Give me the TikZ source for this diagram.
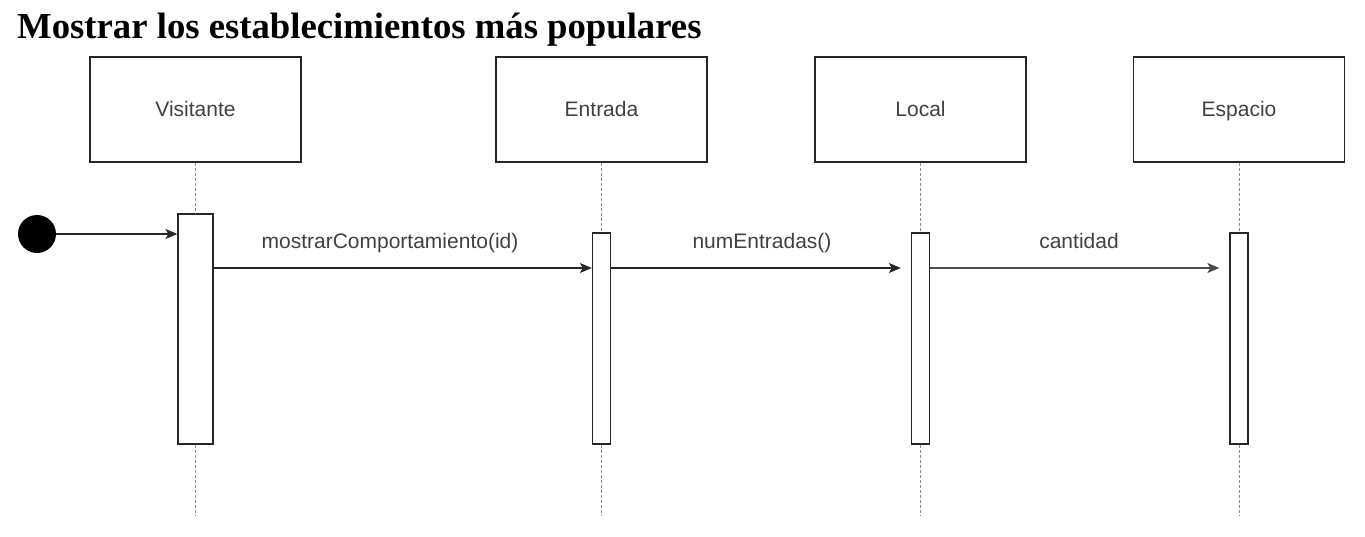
\documentclass[tikz,border=0pt]{standalone}
\usepackage{fontspec}
\setmainfont{Liberation Serif}
\newfontfamily\diagfont{Liberation Sans}
\usetikzlibrary{arrows.meta}
\begin{document}
\begin{tikzpicture}[x=1pt,y=-1pt,
  participant/.style={draw=black!85,line width=1.3pt,minimum width=211pt,minimum height=105pt,inner sep=0pt,text height=17pt,text depth=2pt,font=\diagfont\fontsize{21}{25}\selectfont,text=black!75},
  actbar/.style={draw=black!85,line width=1.3pt,fill=white,inner sep=0pt,minimum width=18pt,minimum height=211pt},
  lifeline/.style={draw=black!45,line width=1pt,dash pattern=on 3pt off 2pt},
  msg/.style={draw=black!85,line width=1.3pt,-{Stealth[length=12pt,width=10pt,inset=3pt]}},
  msglabel/.style={font=\diagfont\fontsize{21}{25}\selectfont,text=black!75,inner sep=0pt,text height=17pt,text depth=2pt}
]
\useasboundingbox (0,0) rectangle (1365,537);
\node[anchor=base west,inner sep=0pt,font=\bfseries\fontsize{36.7}{40}\selectfont] (title) at (17,39) {Mostrar los establecimientos más populares};

\node[participant] (pv) at (195.5,109.5) {Visitante};
\node[participant] (pe) at (601.5,109.5) {Entrada};
\node[participant] (pl) at (920.5,109.5) {Local};
\node[participant] (ps) at (1239,109.5) {Espacio};

\coordinate (ev) at (195.5,515);
\coordinate (ee) at (601.5,515);
\coordinate (el) at (920.5,515);
\coordinate (es) at (1239,515);

\node[actbar,minimum width=35pt,minimum height=230pt] (av) at (195.5,329) {};
\node[actbar] (ae) at (601.5,338.5) {};
\node[actbar] (al) at (920.5,338.5) {};
\node[actbar] (as) at (1239,338.5) {};

\draw[lifeline] (pv.south) -- (av.north);
\draw[lifeline] (av.south) -- (ev);
\draw[lifeline] (pe.south) -- (ae.north);
\draw[lifeline] (ae.south) -- (ee);
\draw[lifeline] (pl.south) -- (al.north);
\draw[lifeline] (al.south) -- (el);
\draw[lifeline] (ps.south) -- (as.north);
\draw[lifeline] (as.south) -- (es);

\node[circle,fill=black,minimum size=38pt,inner sep=0pt] (start) at (37,234) {};
\draw[msg] (start.east) -- (start.east -| av.west);

\draw[msg] (av.east |- 0,268) -- (ae.west |- 0,268);
\draw[msg,shorten >=10pt] (ae.east |- 0,268) -- (al.west |- 0,268);
\draw[msg,shorten >=10pt,draw=black!70] (al.east |- 0,268) -- (as.west |- 0,268);

\node[msglabel] (l1) at (390,241) {mostrarComportamiento(id)};
\node[msglabel] (l2) at (762,241) {numEntradas()};
\node[msglabel] (l3) at (1079,241) {cantidad};
\end{tikzpicture}
\end{document}
